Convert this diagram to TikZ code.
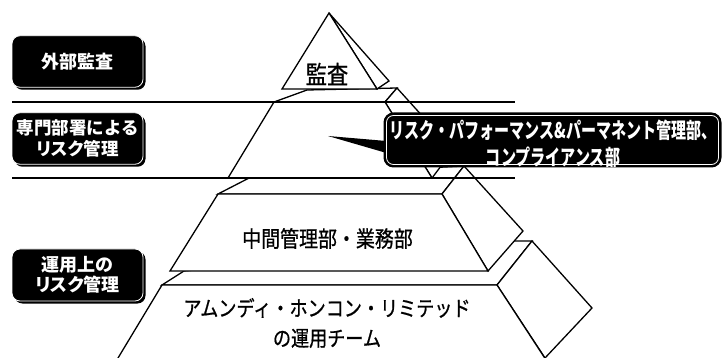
\documentclass[tikz,border=0pt]{standalone}
\usepackage{fontspec}
\usetikzlibrary{shadows,calc}
\newfontfamily\jpM[FakeStretch=0.85,FakeBold=0.8]{Noto Sans CJK JP}
\newfontfamily\jpA{Noto Sans CJK JP}
\newfontfamily\jpP[RawFeature=+palt]{Noto Sans CJK JP}
\newfontfamily\jpC[FakeStretch=0.7]{Noto Sans CJK JP}
\begin{document}
\begin{tikzpicture}[x=1pt,y=-1pt,
  face/.style={draw=black,fill=white,line width=1.3pt,line join=miter},
  sep/.style={draw=black,line width=1.8pt},
  lbl/.style={rounded corners=8pt,fill=black,draw=white,line width=0.8pt,
    text=white,align=center,minimum width=131pt,inner sep=0pt,
    drop shadow={shadow xshift=2.5pt,shadow yshift=-2.5pt,fill=black,opacity=1}},
  ptxt/.style={inner sep=0pt,align=center,text=black}]
\useasboundingbox (0,0) rectangle (723,358);
\clip (0,0) rectangle (723,358);
% layer 4 (bottom)
\draw[face] (162,285) -- (184,271) -- (514,241) -- (532,241) -- (497,285) -- cycle;
\draw[face] (497,285) -- (532,241) -- (592,308) -- (545,358) -- cycle;
\draw[face] (162,285) -- (497,285) -- (548,363) -- (115,363) -- cycle;
% layer 3
\draw[face] (218,194) -- (251,177) -- (464,166) -- (442,194) -- cycle;
\draw[face] (442,194) -- (464,166) -- (523,231) -- (488,271) -- cycle;
\draw[face] (218,194) -- (442,194) -- (488,271) -- (170,271) -- cycle;
% layer 2
\draw[face] (274,102) -- (307,90) -- (397,88) -- (385,102) -- cycle;
\draw[face] (385,102) -- (397,88) -- (453,150) -- (432,178) -- cycle;
\draw[face] (274,102) -- (385,102) -- (432,178) -- (228,178) -- cycle;
% layer 1 (top)
\draw[face] (329,13) -- (389,81) -- (377,89) -- cycle;
\draw[face] (329,13) -- (377,89) -- (282,89) -- cycle;
% separators
\draw[sep] (12,102) -- (515,102);
\draw[sep] (12,178) -- (515,178);
% pyramid texts
\node[ptxt,font=\jpM\fontsize{25}{28}\selectfont] (t1) at (327,74) {監査};
\node[ptxt,font=\jpM\fontsize{22.3}{26}\selectfont] (t3) at (327.5,238.5) {中間管理部・業務部};
\node[ptxt,font=\jpM\fontsize{21.3}{30}\selectfont] (t4) at (327,323) {アムンディ・ホンコン・リミテッド\\の運用チーム};
% left labels
\node[lbl,minimum height=51.5pt,font=\jpA\bfseries\fontsize{18}{21}\selectfont] (b1) at (77.5,61.5) {外部監査};
\node[lbl,minimum height=51.5pt,font=\jpA\bfseries\fontsize{17.5}{21.5}\selectfont] (b2) at (77.5,138.5) {専門部署による\\{\jpP\bfseries リスク}管理};
\node[lbl,minimum height=52pt,font=\jpA\bfseries\fontsize{18}{20.5}\selectfont] (b3) at (77.5,275) {運用上の\\{\jpP\bfseries リスク}管理};
% callout
\coordinate (tip) at (328,136);
\node[draw=black,fill=black,line width=2pt,rounded corners=9pt,minimum width=336pt,minimum height=53pt,inner sep=0pt] (co) at (552.5,140) {};
\fill[black] (tip) -- ($(co.west)+(3,1)$) -- ($(co.west)+(3,13)$) -- cycle;
\draw[white,line width=0.8pt,rounded corners=7pt] ($(co.north west)+(3,3)$) rectangle ($(co.south east)+(-3,-3)$);
\node[inner sep=0pt,align=center,text=white,font=\jpC\bfseries\fontsize{21.5}{27}\selectfont] (cot) at (553,143.5) {リスク・パフォーマンス\&パーマネント管理部、\\コンプライアンス部};
\end{tikzpicture}
\end{document}
